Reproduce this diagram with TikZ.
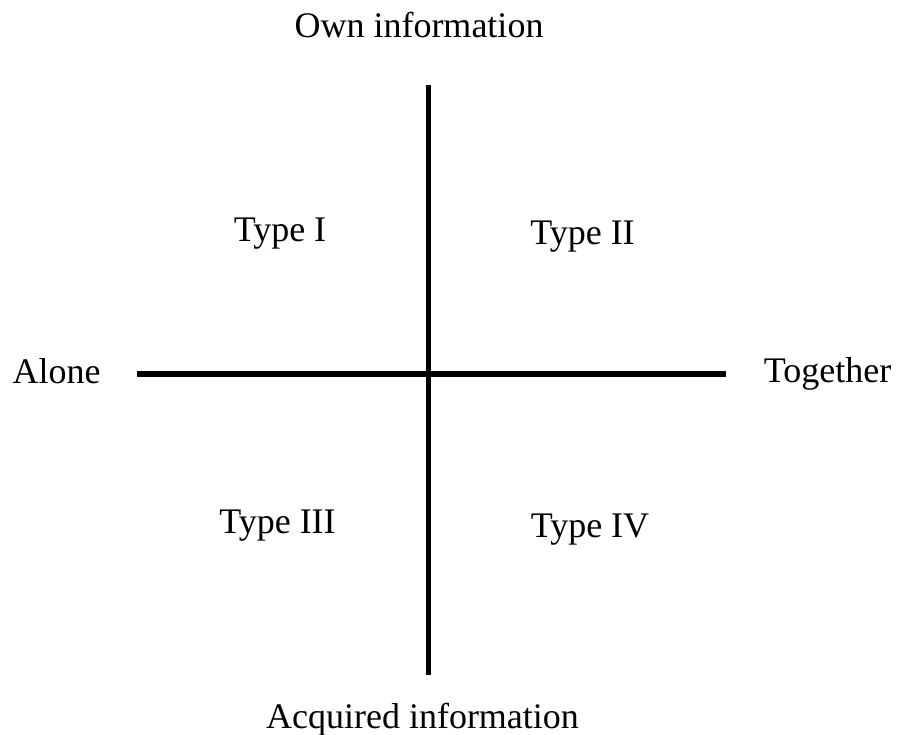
\documentclass[tikz,border=0pt]{standalone}
\usepackage{fontspec}
\setmainfont{Liberation Serif}
\begin{document}
\begin{tikzpicture}[x=1pt,y=-1pt,
  lbl/.style={inner sep=0pt,anchor=base,font=\fontsize{36}{40}\selectfont},
  axis/.style={line width=5.5pt,black,line cap=butt}]
\useasboundingbox (0,0) rectangle (899,735);
\node[lbl] (own) at (419,38) {Own information};
\node[lbl] (acq) at (422.5,728) {Acquired information};
\node[lbl] (alone) at (56.5,383) {Alone};
\node[lbl] (tog) at (827.5,382) {Together};
\node[lbl] (t1) at (280,242) {Type I};
\node[lbl] (t2) at (582.5,245) {Type II};
\node[lbl] (t3) at (277.5,533) {Type III};
\node[lbl] (t4) at (590,537) {Type IV};
\coordinate (vtop) at (428.5,85);
\coordinate (vbot) at (428.5,675);
\coordinate (hl) at (137,374);
\coordinate (hr) at (726,374);
\draw[axis] (vtop) -- (vbot);
\draw[axis] (hl) -- (hr);
\end{tikzpicture}
\end{document}
